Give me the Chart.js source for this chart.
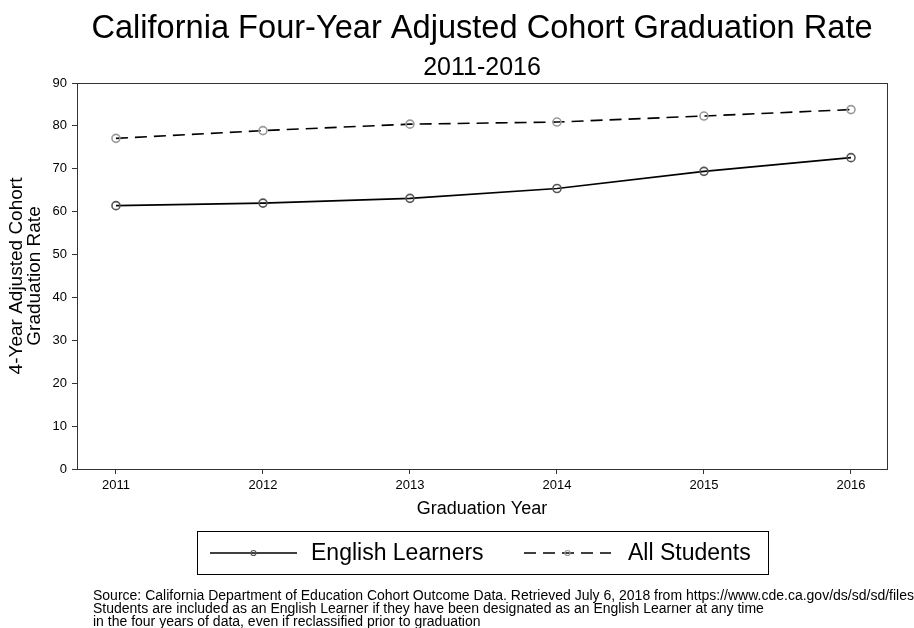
<!DOCTYPE html>
<html>
<head>
<meta charset="utf-8">
<script src="https://cdn.jsdelivr.net/npm/chart.js@4"></script>
<style>
  html, body { margin: 0; padding: 0; background: #fff; }
  #wrap { width: 914px; height: 628px; position: relative; }
</style>
</head>
<body>
<div id="wrap"><canvas id="chart" role="img" aria-label="California four-year adjusted cohort graduation rate 2011-2016"></canvas></div>
<script>

const years = [2011, 2012, 2013, 2014, 2015, 2016];
const englishLearners = [61.4, 62.0, 63.1, 65.4, 69.4, 72.6];
const allStudents = [77.1, 78.9, 80.4, 80.9, 82.3, 83.8];
const yTicks = [0, 10, 20, 30, 40, 50, 60, 70, 80, 90];

const titleText = "California Four-Year Adjusted Cohort Graduation Rate";
const subtitleText = "2011-2016";
const footnotes = [
    "Source: California Department of Education Cohort Outcome Data. Retrieved July 6, 2018 from https://www.cde.ca.gov/ds/sd/sd/filescohort.asp",
    "Students are included as an English Learner if they have been designated as an English Learner at any time",
    "in the four years of data, even if reclassified prior to graduation"
];

const FONT = "'Liberation Sans', Arial, Helvetica, sans-serif";


/* ================= PLUGINS ================= */

// box around plot area
const frame = {
    id: "frame",
    afterDatasetsDraw(chart) {
        const a = chart.chartArea;
        const ctx = chart.ctx;
        ctx.save();
        ctx.strokeStyle = "#333";
        ctx.lineWidth = 1;
        ctx.strokeRect(a.left + 0.5, a.top + 0.5, a.right - a.left, a.bottom - a.top);
        ctx.restore();
    }
};

// titles centred over plot, boxed legend, footnote
const extras = {
    id: "extras",
    afterDraw(chart) {
        const ctx = chart.ctx;
        const a = chart.chartArea;
        const cx = (a.left + a.right) / 2;
        ctx.save();

        ctx.fillStyle = "#000";
        ctx.textAlign = "center";
        ctx.textBaseline = "alphabetic";
        ctx.font = "32.6px " + FONT;
        ctx.fillText(titleText, cx, 38);
        ctx.font = "25px " + FONT;
        ctx.fillText(subtitleText, cx, 75);

        // legend box
        ctx.strokeStyle = "#000";
        ctx.lineWidth = 1;
        ctx.strokeRect(197.5, 531.5, 571, 43);

        const sets = chart.data.datasets;
        const items = [
            { x0: 210, x1: 297, tx: 311, ds: sets[0] },
            { x0: 524, x1: 611, tx: 628, ds: sets[1] }
        ];
        const ly = 553;
        items.forEach(it => {
            ctx.strokeStyle = it.ds.borderColor;
            ctx.lineWidth = it.ds.borderWidth;
            ctx.setLineDash(it.ds.borderDash || []);
            ctx.beginPath();
            ctx.moveTo(it.x0, ly);
            ctx.lineTo(it.x1, ly);
            ctx.stroke();
            ctx.setLineDash([]);
            ctx.strokeStyle = it.ds.pointBorderColor;
            ctx.lineWidth = 1.2;
            ctx.beginPath();
            ctx.arc((it.x0 + it.x1) / 2, ly, 2.5, 0, Math.PI * 2);
            ctx.stroke();

            ctx.fillStyle = "#000";
            ctx.font = "23px " + FONT;
            ctx.textBaseline = "middle";
            ctx.textAlign = "left";
            ctx.fillText(it.ds.label, it.tx, ly + 1);
        });

        // footnote
        ctx.font = "14px " + FONT;
        ctx.fillStyle = "#000";
        ctx.textAlign = "left";
        ctx.textBaseline = "alphabetic";
        footnotes.forEach((line, i) => {
            ctx.fillText(line, 93, 600 + i * 12.8);
        });

        ctx.restore();
    }
};


/* ================= CHART ================= */

new Chart(document.getElementById("chart"), {
    type: "line",
    data: {
        datasets: [
            {
                label: "English Learners",
                data: years.map((y, i) => ({ x: y, y: englishLearners[i] })),
                borderColor: "#000",
                borderWidth: 1.6,
                pointRadius: 4,
                pointBorderWidth: 1.6,
                pointBackgroundColor: "rgba(0,0,0,0)",
                pointBorderColor: "#555",
                tension: 0
            },
            {
                label: "All Students",
                data: years.map((y, i) => ({ x: y, y: allStudents[i] })),
                borderColor: "#000",
                borderWidth: 1.6,
                borderDash: [12, 7],
                pointRadius: 4,
                pointBorderWidth: 1.6,
                pointBackgroundColor: "rgba(0,0,0,0)",
                pointBorderColor: "#999",
                tension: 0
            }
        ]
    },
    options: {
        responsive: true,
        maintainAspectRatio: false,
        animation: false,
        layout: { padding: { top: 83, left: 0, right: 27, bottom: 108 } },
        plugins: {
            legend: { display: false },
            tooltip: { enabled: false },
            title: { display: false }
        },
        scales: {
            x: {
                type: "linear",
                min: 2010.735,
                max: 2016.245,
                afterBuildTicks: s => { s.ticks = years.map(v => ({ value: v })); },
                afterFit: s => { s.height = 51; },
                ticks: {
                    color: "#000",
                    font: { family: FONT, size: 13 },
                    padding: 4,
                    maxRotation: 0,
                    callback: v => String(v)
                },
                grid: { display: true, drawOnChartArea: false, drawTicks: true, tickLength: 5, color: "#333" },
                border: { display: false },
                title: {
                    display: true,
                    text: "Graduation Year",
                    color: "#000",
                    font: { family: FONT, size: 18 },
                    padding: { top: 6, bottom: 0 }
                }
            },
            y: {
                min: 0,
                max: 90,
                afterBuildTicks: s => { s.ticks = yTicks.map(v => ({ value: v })); },
                afterFit: s => { s.width = 77; },
                ticks: {
                    color: "#000",
                    font: { family: FONT, size: 13 },
                    padding: 5
                },
                grid: { display: true, drawOnChartArea: false, drawTicks: true, tickLength: 5, color: "#333" },
                border: { display: false },
                title: {
                    display: true,
                    text: ["4-Year Adjusted Cohort", "Graduation Rate"],
                    color: "#000",
                    font: { family: FONT, size: 19, lineHeight: 0.95 },
                    padding: { top: 8, bottom: 0 }
                }
            }
        }
    },
    plugins: [frame, extras]
});
</script>
</body>
</html>
